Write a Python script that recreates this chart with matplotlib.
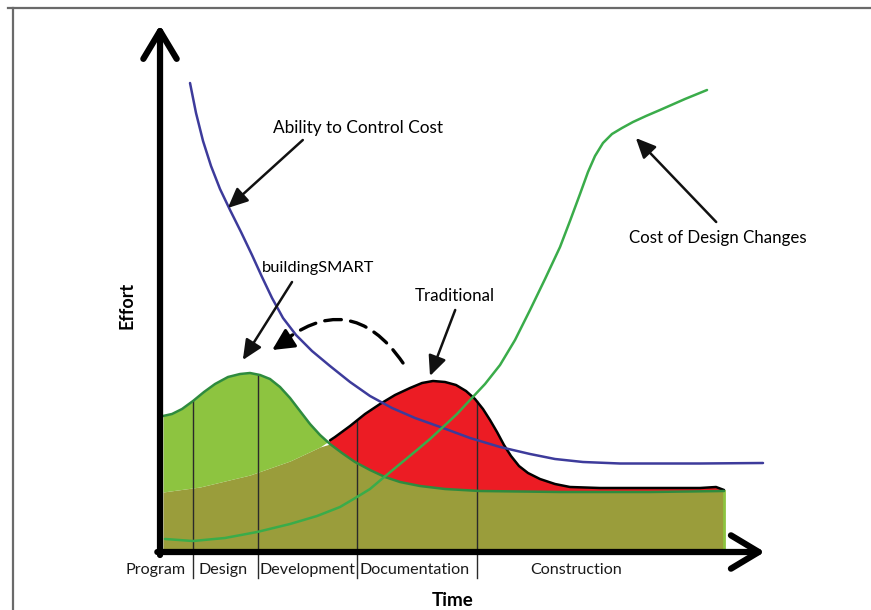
import numpy as np
import matplotlib
matplotlib.use("Agg")
import matplotlib.pyplot as plt
from matplotlib.patches import FancyArrowPatch
from matplotlib.lines import Line2D

plt.rcParams['font.family'] = ['Lato', 'DejaVu Sans']

# ---- data (time 0..100, effort 0..100) ----
bs_t = [0.5, 2.0, 3.67, 5.5, 7.33, 9.17, 11.33, 13.33, 15.0, 16.67, 18.33, 20.0, 21.67,
        23.33, 25.0, 26.67, 28.33, 30.33, 32.5, 35.0, 37.5, 40.0, 43.33, 47.5, 53.33,
        66.67, 81.67, 94.0]
bs_e = [27.2, 27.6, 28.6, 30.2, 32.0, 33.6, 35.0, 35.6, 35.8, 35.4, 34.6, 33.0, 30.8,
        28.2, 25.6, 23.4, 21.6, 19.8, 18.0, 16.4, 15.0, 14.0, 13.2, 12.6, 12.2,
        12.0, 12.0, 12.2]

trad_t = [0.5, 6.67, 15.0, 21.67, 26.67, 29.17, 31.67, 34.17, 36.67, 39.17, 41.67, 43.67,
          45.5, 47.5, 49.33, 51.0, 52.5, 53.83, 55.0, 56.17, 57.33, 58.5, 59.83, 61.33,
          63.33, 65.83, 68.33, 73.33, 90.0, 92.67, 94.0]
trad_e = [12.0, 13.0, 15.4, 18.2, 21.0, 23.0, 25.2, 27.6, 29.6, 31.4, 32.8, 33.8,
          34.2, 34.0, 33.4, 32.2, 30.6, 28.6, 26.4, 24.0, 21.4, 19.2, 17.2, 15.8,
          14.6, 13.6, 13.0, 12.8, 12.8, 13.0, 12.4]

ability_t = [5.0, 6.0, 7.17, 8.5, 10.0, 11.67, 13.5, 15.33, 17.0, 18.67, 20.5, 22.67,
             25.33, 28.33, 31.67, 35.0, 38.67, 42.5, 47.17, 51.67, 56.67, 61.67, 65.83,
             70.5, 76.67, 90.0, 100.5]
ability_e = [93.8, 87.8, 82.2, 77.2, 72.6, 68.4, 64.0, 59.4, 55.0, 50.8, 46.8, 43.4,
             40.2, 37.2, 34.0, 31.2, 28.8, 26.8, 24.8, 22.8, 21.0, 19.6, 18.6,
             18.0, 17.7, 17.7, 17.8]

change_t = [0.83, 5.5, 10.83, 16.17, 21.67, 26.17, 30.0, 32.83, 35.0, 37.17, 40.0, 42.83,
            45.0, 47.17, 49.5, 51.67, 54.17, 56.67, 59.17, 61.67, 64.17, 66.67, 68.33,
            70.0, 71.33, 72.5, 73.83, 75.33, 77.0, 78.83, 81.0, 83.33, 87.5, 91.17]
change_e = [2.6, 2.2, 2.8, 4.0, 5.6, 7.2, 9.0, 11.0, 12.6, 14.8, 17.6, 20.4,
            22.6, 25.0, 27.6, 30.4, 33.6, 37.4, 42.4, 48.4, 54.6, 61.0, 66.2,
            71.6, 76.0, 79.2, 81.8, 83.6, 84.8, 86.0, 87.2, 88.4, 90.6, 92.4]

phase_bounds = [5.5, 16.3, 32.8, 52.8]
phase_labels = ["Program", "Design", "Development", "Documentation", "Construction"]
phase_label_t = [-0.7, 10.5, 24.5, 42.5, 69.3]

# ---- figure ----
fig = plt.figure(figsize=(8.71, 6.10), dpi=100)
ax = fig.add_axes([0, 0, 1, 1])
ax.set_xlim(-26.67, 118.5)
ax.set_ylim(-11.6, 110.4)
ax.axis('off')

# frame (top and left edges)
fig.add_artist(Line2D([8/871, 1], [1 - 8/610, 1 - 8/610], color='#6a6a6a', lw=1.6,
                      transform=fig.transFigure))
fig.add_artist(Line2D([13/871, 13/871], [0, 1 - 8/610], color='#6a6a6a', lw=1.6,
                      transform=fig.transFigure))

# common grid for the two effort curves
grid = np.union1d(bs_t, trad_t)
g = np.interp(grid, bs_t, bs_e)
tr = np.interp(grid, trad_t, trad_e)

olive = '#9a9d3b'
light_green = '#8dc440'
red = '#ec1c24'

ax.fill_between(grid, 0, np.minimum(g, tr), color=olive, lw=0, zorder=1)
ax.fill_between(grid, tr, g, where=g >= tr, interpolate=True, color=light_green, lw=0, zorder=1)
ax.fill_between(grid, g, tr, where=tr >= g, interpolate=True, color=red, lw=0, zorder=1)
ax.plot([grid[-1], grid[-1]], [0, g[-1]], color=light_green, lw=2, zorder=2)

# phase separators
top = np.maximum(g, tr)
for b in phase_bounds:
    ax.plot([b, b], [-5.2, np.interp(b, grid, top)], color='#2a2a2a', lw=1.0, zorder=3)

line_kw = dict(solid_joinstyle='round', solid_capstyle='round')
# outlines
tr_line = np.where(tr >= g - 0.05, tr, np.nan)
ax.plot(grid, tr_line, color='black', lw=1.8, zorder=4, **line_kw)
ax.plot(bs_t, bs_e, color='#2e8b3e', lw=1.8, zorder=4, **line_kw)

# cost curves
ax.plot(ability_t, ability_e, color='#3d3b9b', lw=1.8, zorder=5, **line_kw)
ax.plot(change_t, change_e, color='#3aac4a', lw=1.8, zorder=5, **line_kw)

# axes arrows
ax.annotate('', xy=(0, 105.4), xytext=(0, -0.6),
            arrowprops=dict(arrowstyle='->,head_length=0.5,head_width=0.3', lw=4.5,
                            color='black', mutation_scale=40, shrinkA=0, shrinkB=0),
            zorder=8)
ax.annotate('', xy=(100.8, 0), xytext=(-0.45, 0),
            arrowprops=dict(arrowstyle='->,head_length=0.5,head_width=0.3', lw=4.5,
                            color='black', mutation_scale=40, shrinkA=0, shrinkB=0),
            zorder=8)

# phase labels
for lab, t in zip(phase_labels, phase_label_t):
    ax.text(t, -3.6, lab, ha='center', va='center', fontsize=11.6, color='#1a1a1a')

ax.text(48.7, -9.8, "Time", ha='center', va='center', fontsize=13.5, fontweight='bold')
ax.text(-5.5, 49.4, "Effort", ha='center', va='center', fontsize=13, fontweight='bold',
        rotation=90)

# annotations
arrow_kw = dict(arrowstyle='-|>,head_length=0.55,head_width=0.25', lw=1.8, color='#111111',
                mutation_scale=22, shrinkA=0, shrinkB=0)
ax.text(33.0, 84.8, "Ability to Control Cost", ha='center', va='center', fontsize=12.4)
ax.annotate('', xy=(11.3, 68.8), xytext=(23.8, 82.4), arrowprops=arrow_kw, zorder=6)

ax.text(26.4, 56.8, "buildingSMART", ha='center', va='center', fontsize=11.8)
ax.annotate('', xy=(13.8, 38.4), xytext=(22.0, 54.0), arrowprops=arrow_kw, zorder=6)

ax.text(49.2, 51.2, "Traditional", ha='center', va='center', fontsize=12.2)
ax.annotate('', xy=(45.0, 35.2), xytext=(49.2, 48.4), arrowprops=arrow_kw, zorder=6)

ax.text(93.0, 62.8, "Cost of Design Changes", ha='center', va='center', fontsize=12.2)
ax.annotate('', xy=(79.3, 82.8), xytext=(92.7, 66.0), arrowprops=arrow_kw, zorder=6)

# dashed curved arrow (traditional -> buildingSMART)
arc = FancyArrowPatch((40.5, 37.8), (19.6, 41.2), connectionstyle='arc3,rad=0.55',
                      arrowstyle='-', lw=2.4, color='black', linestyle=(0, (5, 2.8)),
                      shrinkA=0, shrinkB=0, zorder=6)
ax.add_patch(arc)
ax.annotate('', xy=(18.7, 40.4), xytext=(21.8, 42.8),
            arrowprops=dict(arrowstyle='-|>,head_length=0.6,head_width=0.3', lw=2.2,
                            color='black', mutation_scale=22, shrinkA=0, shrinkB=0),
            zorder=6)

fig.savefig('out.png', dpi=100, facecolor='white')
